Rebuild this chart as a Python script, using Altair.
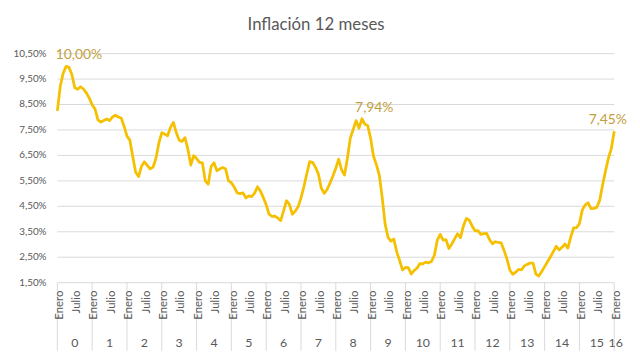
import altair as alt
import pandas as pd

# Monthly 12-month inflation (%), Jan 2000 .. Jan 2016
v2000 = [8.25, 9.22, 9.73, 10.00, 9.96, 9.68, 9.16, 9.10, 9.20, 9.11, 8.96, 8.75]
v2001 = [8.49, 8.32, 7.90, 7.81, 7.87, 7.93, 7.87, 8.01, 8.08, 8.01, 7.97, 7.65]
v2002 = [7.26, 7.10, 6.45, 5.84, 5.67, 6.07, 6.25, 6.11, 5.97, 6.04, 6.39, 6.99]
v2003 = [7.39, 7.34, 7.27, 7.60, 7.80, 7.40, 7.10, 7.05, 7.20, 6.75, 6.12, 6.49]
v2004 = [6.38, 6.23, 6.21, 5.50, 5.37, 6.06, 6.21, 5.90, 5.97, 6.03, 5.97, 5.50]
v2005 = [5.43, 5.25, 5.03, 5.00, 5.03, 4.83, 4.91, 4.88, 5.02, 5.27, 5.10, 4.85]
v2006 = [4.56, 4.19, 4.11, 4.12, 4.04, 3.94, 4.32, 4.72, 4.58, 4.19, 4.31, 4.48]
v2007 = [4.83, 5.27, 5.78, 6.26, 6.23, 6.03, 5.77, 5.22, 5.01, 5.16, 5.41, 5.69]
v2008 = [6.00, 6.35, 5.93, 5.73, 6.39, 7.18, 7.52, 7.87, 7.57, 7.94, 7.73, 7.67]
v2009 = [7.18, 6.47, 6.14, 5.73, 4.85, 3.81, 3.28, 3.13, 3.21, 2.72, 2.37, 2.00]
v2010 = [2.10, 2.09, 1.84, 1.98, 2.07, 2.25, 2.24, 2.31, 2.28, 2.33, 2.59, 3.17]
v2011 = [3.40, 3.17, 3.19, 2.84, 3.02, 3.23, 3.42, 3.27, 3.73, 4.02, 3.96, 3.73]
v2012 = [3.54, 3.55, 3.40, 3.43, 3.44, 3.20, 3.03, 3.11, 3.08, 3.06, 2.77, 2.44]
v2013 = [2.00, 1.83, 1.91, 2.02, 2.00, 2.16, 2.22, 2.27, 2.27, 1.84, 1.76, 1.94]
v2014 = [2.13, 2.32, 2.51, 2.72, 2.93, 2.79, 2.89, 3.02, 2.86, 3.29, 3.65, 3.66]
v2015 = [3.82, 4.36, 4.56, 4.64, 4.41, 4.42, 4.46, 4.74, 5.35, 5.89, 6.39, 6.77]
v2016 = [7.45]

values = (v2000 + v2001 + v2002 + v2003 + v2004 + v2005 + v2006 + v2007 + v2008
          + v2009 + v2010 + v2011 + v2012 + v2013 + v2014 + v2015 + v2016)

year_labels = [str(i) for i in range(17)]
month_names = ["Enero", "Julio"]
y_ticks = [1.5, 2.5, 3.5, 4.5, 5.5, 6.5, 7.5, 8.5, 9.5, 10.5]

ann_months = [3, 105, 192]
ann_values = [10.00, 7.94, 7.45]
ann_texts = ["10,00%", "7,94%", "7,45%"]

N = len(values) - 1  # 192
W, H = 564, 232
FONT = "Lato"
GRAY = "#595959"
GRID = "#d9d9d9"

df = pd.DataFrame({"m": list(range(len(values))), "v": values})

xs = alt.Scale(domain=[0, N], nice=False, zero=False)
ys = alt.Scale(domain=[1.5, 10.5], nice=False, zero=False)

# gridlines + y labels (drawn as marks)
tick_df = pd.DataFrame({"v": y_ticks})
grid = alt.Chart(tick_df).mark_rule(color=GRID, strokeWidth=1).encode(
    y=alt.Y("v:Q", scale=ys, axis=None), x=alt.value(0), x2=alt.value(W))
ylab = alt.Chart(tick_df).transform_calculate(
    t="replace(format(datum.v, '.2f'), '.', ',') + '%'"
).mark_text(align="right", baseline="middle", fontSize=10, font=FONT, color=GRAY).encode(
    y=alt.Y("v:Q", scale=ys, axis=None), x=alt.value(-11), text="t:N")

line = alt.Chart(df).mark_line(color="#f5c000", strokeWidth=2.8, strokeJoin="round").encode(
    x=alt.X("m:Q", scale=xs, axis=None),
    y=alt.Y("v:Q", scale=ys, axis=None),
)

# year separators
sep_df = pd.DataFrame({"m": [12 * k for k in range(17)]})
seps = alt.Chart(sep_df).mark_rule(color=GRID, strokeWidth=1).encode(
    x=alt.X("m:Q", scale=xs, axis=None), y=alt.value(H), y2=alt.value(H + 69))

# Enero / Julio labels
ml_m, ml_t = [], []
for k in range(17):
    ml_m.append(12 * k); ml_t.append(month_names[0])
    if k < 16:
        ml_m.append(12 * k + 6); ml_t.append(month_names[1])
ml_df = pd.DataFrame({"m": ml_m, "t": ml_t})
mlabels = alt.Chart(ml_df).transform_calculate(p="datum.m + 0.8").mark_text(
    angle=270, align="right", baseline="middle", fontSize=11.5, font=FONT, color=GRAY
).encode(x=alt.X("p:Q", scale=xs, axis=None), y=alt.value(H + 8), text="t:N")

# Year labels
yl_pos = [12 * k + 6 for k in range(16)] + [N + 0.5]
yl_df = pd.DataFrame({"m": yl_pos, "t": year_labels})
ylabels = alt.Chart(yl_df).mark_text(
    align="center", baseline="middle", fontSize=12.5, font=FONT, color=GRAY
).encode(x=alt.X("m:Q", scale=xs, axis=None), y=alt.value(H + 61), text="t:N")

# annotations
ann_df = pd.DataFrame({"m": ann_months, "v": ann_values, "t": ann_texts})
ann_layers = []
for i, dx in enumerate([13, 12.5, -6.5]):
    ann_layers.append(
        alt.Chart(ann_df.iloc[[i]]).mark_text(
            align="center", baseline="middle", fontSize=14, font=FONT, color="#bfa040",
            dx=dx, dy=-11
        ).encode(x=alt.X("m:Q", scale=xs, axis=None),
                 y=alt.Y("v:Q", scale=ys, axis=None), text="t:N"))

title = alt.Chart(pd.DataFrame({"t": ["Inflación 12 meses"]})).mark_text(
    align="center", baseline="middle", fontSize=17, font=FONT, color=GRAY
).encode(x=alt.value(262), y=alt.value(-29), text="t:N")

chart = alt.layer(grid, ylab, seps, line, mlabels, ylabels, *ann_layers, title).properties(
    width=W, height=H,
    padding={"left": 50, "top": 44, "right": 18, "bottom": 69},
    autosize="none",
).configure_view(stroke=None)

chart.save("out.html", embed_options={"renderer": "svg", "actions": False})
